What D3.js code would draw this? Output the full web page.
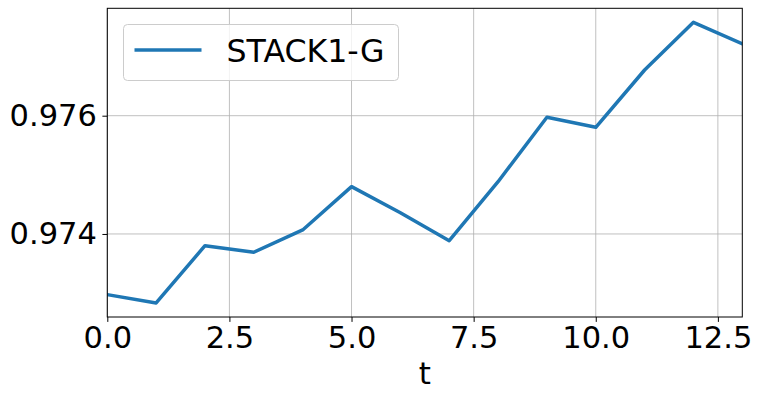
<!DOCTYPE html>
<html>
<head>
<meta charset="utf-8">
<script src="https://cdn.jsdelivr.net/npm/d3@7"></script>
<style>
html,body{margin:0;padding:0;background:#fff;}
svg{display:block;font-family:"DejaVu Sans",sans-serif;}
</style>
</head>
<body>
<svg id="chart" width="762" height="400"></svg>
<script>
const seriesName = "STACK1-G";
const tValues = [0,1,2,3,4,5,6,7,8,9,10,11,12,13];
const gValues = [0.972974,0.972833,0.973802,0.973691,0.974068,0.974800,0.974360,0.973887,0.974884,0.975973,0.975804,0.976773,0.977579,0.977217];
const xTicks = [0,2.5,5,7.5,10,12.5];
const yTicks = [0.974,0.976];
const xLabel = "t";

const svg = d3.select("#chart");
const m = {left:107.3, right:742.3, top:8.3, bottom:317};
const x = d3.scaleLinear().domain([0,13]).range([m.left,m.right]);
const yMin = d3.min(gValues), yMax = d3.max(gValues), pad = (yMax-yMin)*0.05;
const y = d3.scaleLinear().domain([yMin-pad,yMax+pad]).range([m.bottom,m.top]);

// grid
const grid = svg.append("g").attr("stroke","#b0b0b0").attr("stroke-width",0.8);
xTicks.forEach(v=>grid.append("line").attr("x1",x(v)).attr("x2",x(v)).attr("y1",m.top).attr("y2",m.bottom));
yTicks.forEach(v=>grid.append("line").attr("x1",m.left).attr("x2",m.right).attr("y1",y(v)).attr("y2",y(v)));

// line
svg.append("clipPath").attr("id","clip").append("rect")
  .attr("x",m.left).attr("y",m.top).attr("width",m.right-m.left).attr("height",m.bottom-m.top);
svg.append("path")
  .datum(tValues.map((t,i)=>[t,gValues[i]]))
  .attr("fill","none").attr("stroke","#1f77b4").attr("stroke-width",3.5)
  .attr("stroke-linejoin","round").attr("stroke-linecap","square")
  .attr("clip-path","url(#clip)")
  .attr("d",d3.line().x(d=>x(d[0])).y(d=>y(d[1])));

// axes
const xAxis = d3.axisBottom(x).tickValues(xTicks).tickFormat(d3.format(".1f")).tickSize(4.9).tickPadding(4.9);
const yAxis = d3.axisLeft(y).tickValues(yTicks).tickFormat(d3.format(".3f")).tickSize(4.9).tickPadding(5.5);
const gx = svg.append("g").attr("transform",`translate(0,${m.bottom})`).call(xAxis);
const gy = svg.append("g").attr("transform",`translate(${m.left},0)`).call(yAxis);
[gx,gy].forEach(g=>{
  g.select(".domain").remove();
  g.selectAll(".tick line").attr("stroke","#000").attr("stroke-width",1);
  g.selectAll(".tick text").attr("fill","#000").style("font-size","30.5px").style("font-family","DejaVu Sans");
});

// frame
svg.append("rect").attr("x",m.left).attr("y",m.top).attr("width",m.right-m.left).attr("height",m.bottom-m.top)
  .attr("fill","none").attr("stroke","#000").attr("stroke-width",1);

// x label
svg.append("text").attr("x",(m.left+m.right)/2).attr("y",384).attr("text-anchor","middle")
  .style("font-size","31px").attr("fill","#000").text(xLabel);

// legend
const lg = svg.append("g");
lg.append("rect").attr("x",123.5).attr("y",24.5).attr("width",275).attr("height",56).attr("rx",4)
  .attr("fill","#fff").attr("fill-opacity",0.8).attr("stroke","#cccccc").attr("stroke-width",1);
lg.append("line").attr("x1",134.5).attr("x2",201.5).attr("y1",50).attr("y2",50)
  .attr("stroke","#1f77b4").attr("stroke-width",3.5);
lg.append("text").attr("x",226.5).attr("y",61.7).style("font-size","31.6px").attr("fill","#000").text(seriesName);
</script>
</body>
</html>
